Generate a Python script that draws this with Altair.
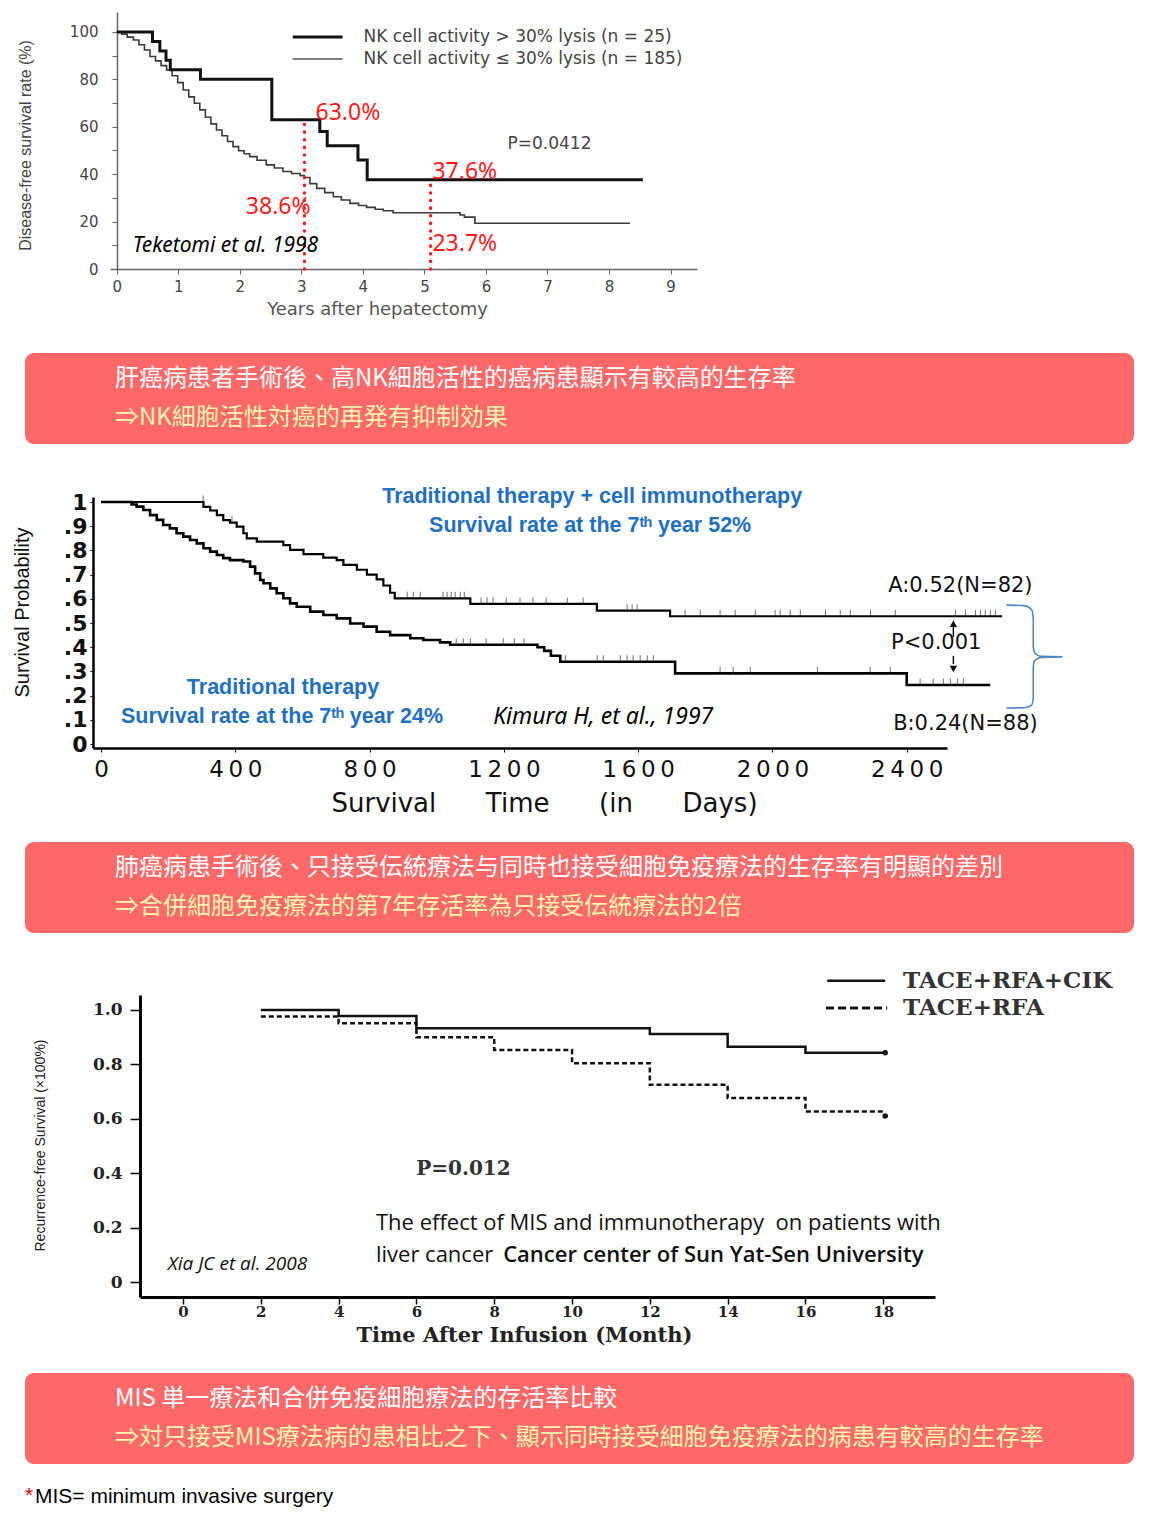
import altair as alt
import pandas as pd

W, H = 1154, 1505

# ---------------- Panel 1 : Teketomi et al. 1998 ----------------
p1_high_t = [0, 0.58, 0.70, 0.80, 0.87, 1.36, 2.52, 3.30, 3.42, 3.92, 4.07, 8.55]
p1_high_s = [100, 96.0, 92.0, 88.0, 84.0, 80.0, 63.0, 58.0, 52.0, 46.0, 37.6, 37.6]
p1_low_t = [0, 0.08, 0.17, 0.27, 0.36, 0.45, 0.54, 0.63, 0.72, 0.81, 0.90, 0.99, 1.08, 1.17,
            1.26, 1.35, 1.44, 1.53, 1.62, 1.71, 1.80, 1.89, 1.98, 2.07, 2.16, 2.28, 2.43, 2.56,
            2.70, 2.84, 2.98, 3.05, 3.14, 3.25, 3.38, 3.52, 3.65, 3.79, 3.93, 4.06, 4.20, 4.33,
            4.49, 5.58, 5.65, 5.82, 8.34]
p1_low_s = [100, 99.0, 97.8, 96.6, 94.6, 92.4, 89.6, 87.8, 85.8, 84.0, 81.5, 78.6, 75.5, 72.6,
            69.9, 67.1, 64.0, 61.2, 58.6, 56.2, 53.8, 51.6, 49.9, 48.6, 47.4, 45.9, 43.9, 42.6,
            41.1, 40.3, 39.4, 38.6, 36.0, 34.0, 32.2, 30.5, 29.1, 27.7, 26.8, 26.0, 25.2, 24.6,
            23.7, 22.8, 21.9, 19.3, 19.3]
p1_cut_years = [3.05, 5.10]
p1_cut_high = [63.0, 37.6]
p1_cut_low = [38.6, 23.7]
p1_legend = ["NK cell activity > 30% lysis (n = 25)", "NK cell activity \u2264 30% lysis (n = 185)"]

# ---------------- Panel 2 : Kimura H, et al., 1997 ----------------
p2_a_t = [0, 305, 325, 345, 364, 384, 404, 424, 434, 464, 543, 563, 603, 662, 702, 722, 762,
          792, 821, 841, 861, 875, 1100, 1477, 1695, 2684]
p2_a_s = [1.0, 0.98, 0.965, 0.946, 0.925, 0.915, 0.898, 0.871, 0.85, 0.836, 0.822, 0.802, 0.785,
          0.770, 0.760, 0.740, 0.720, 0.700, 0.680, 0.655, 0.625, 0.602, 0.579, 0.551, 0.528, 0.528]
p2_b_t = [0, 91, 106, 126, 146, 166, 185, 205, 225, 245, 265, 285, 305, 325, 345, 364, 384, 424,
          444, 459, 474, 484, 504, 523, 543, 563, 583, 623, 662, 702, 742, 782, 821, 861, 921,
          960, 1010, 1040, 1300, 1320, 1340, 1368, 1710, 2400, 2649]
p2_b_s = [1.0, 0.99, 0.981, 0.967, 0.946, 0.926, 0.905, 0.891, 0.871, 0.857, 0.843, 0.829, 0.809,
          0.795, 0.781, 0.768, 0.760, 0.754, 0.733, 0.705, 0.678, 0.664, 0.643, 0.623, 0.602,
          0.581, 0.567, 0.547, 0.533, 0.519, 0.498, 0.485, 0.464, 0.450, 0.437, 0.430, 0.420,
          0.410, 0.400, 0.385, 0.365, 0.340, 0.292, 0.244, 0.244]
p2_a_cens = [304, 390, 912, 930, 951, 1019, 1031, 1043, 1055, 1070, 1082, 1132, 1150, 1168, 1207,
             1248, 1287, 1326, 1389, 1436, 1567, 1582, 1597, 1740, 1785, 1844, 1889, 1949, 2008,
             2023, 2053, 2083, 2158, 2202, 2232, 2292, 2366, 2545, 2575, 2605, 2620, 2634, 2649, 2664]
p2_b_cens = [1058, 1079, 1100, 1147, 1198, 1231, 1260, 1383, 1478, 1496, 1547, 1567, 1585, 1606,
             1627, 1645, 1844, 1883, 1934, 2134, 2291, 2351, 2440, 2479, 2509, 2530, 2551, 2569]
p2_labels = ["A:0.52(N=82)", "P<0.001", "B:0.24(N=88)"]

# ---------------- Panel 3 : Xia JC et al. 2008 ----------------
p3_cik_t = [2, 4, 6, 12, 14, 16, 18]
p3_cik_s = [1.0, 0.978, 0.933, 0.912, 0.865, 0.843, 0.843]
p3_rfa_t = [2, 4, 6, 8, 10, 12, 14, 16, 18]
p3_rfa_s = [0.976, 0.951, 0.90, 0.853, 0.804, 0.725, 0.676, 0.627, 0.627]
p3_series = ["TACE+RFA+CIK", "TACE+RFA"]

# ---------------- banners ----------------
banner_line1 = [
    "肝癌病患者手術後、高NK細胞活性的癌病患顯示有較高的生存率",
    "肺癌病患手術後、只接受伝統療法与同時也接受細胞免疫療法的生存率有明顯的差別",
    "MIS 単一療法和合併免疫細胞療法的存活率比較",
]
banner_line2 = [
    "⇒NK細胞活性対癌的再発有抑制効果",
    "⇒合併細胞免疫療法的第7年存活率為只接受伝統療法的2倍",
    "⇒対只接受MIS療法病的患相比之下、顯示同時接受細胞免疫療法的病患有較高的生存率",
]
footnote = "MIS= minimum invasive surgery"

NARROW = "'Liberation Sans Narrow', 'Liberation Sans', sans-serif"
NB = "\u00a0"


def step_at(ts, ss, t):
    v = ss[0]
    for ti, si in zip(ts, ss):
        if ti <= t:
            v = si
    return v


# ======================= Panel 1 =======================
X1 = alt.Scale(domain=[-0.11, 9.43], range=[102, 689], nice=False, zero=False)
Y1 = alt.Scale(domain=[0, 108.4], range=[261, 4], nice=False, zero=False)
ax1x = alt.Axis(orient="bottom", offset=-(H - 261), values=list(range(10)), format="d",
                tickSize=5, labelPadding=5, labelFont="DejaVu Sans", labelFontSize=15,
                labelColor="#444", domainColor="#666", domainWidth=1.5, tickColor="#666",
                grid=False, labelFlush=False, labelOverlap=False,
                title="Years after hepatectomy", titleFont="DejaVu Sans", titleFontSize=18,
                titleFontWeight="normal", titleColor="#555", titleX=369, titleY=40,
                titleAlign="center", titleBaseline="middle")
ax1y = alt.Axis(orient="left", offset=-109, values=list(range(0, 101, 10)),
                labelExpr="datum.value % 20 == 0 ? datum.label : ''",
                tickSize=5, labelPadding=14, labelFont="DejaVu Sans", labelFontSize=15,
                labelColor="#444", domainColor="#666", domainWidth=1.5, tickColor="#666",
                grid=False, labelOverlap=False,
                title="Disease-free survival rate (%)", titleFont=NARROW, titleFontSize=16,
                titleFontWeight="normal", titleColor="#444", titleX=-92, titleY=137,
                titleAngle=270, titleAlign="center", titleBaseline="middle")

low1 = alt.Chart(pd.DataFrame({"t": p1_low_t, "s": p1_low_s})).mark_line(
    interpolate="step-after", color="#3a3a3a", strokeWidth=1.6).encode(
    x=alt.X("t:Q", scale=X1, axis=ax1x), y=alt.Y("s:Q", scale=Y1, axis=ax1y))
high1 = alt.Chart(pd.DataFrame({"t": p1_high_t, "s": p1_high_s})).mark_line(
    interpolate="step-after", color="#111", strokeWidth=3).encode(x="t:Q", y="s:Q")
leg1_thick = alt.Chart(pd.DataFrame({"t": [2.86], "t2": [3.67], "s": [97.9]})).mark_rule(
    color="#111", strokeWidth=3).encode(x="t:Q", x2="t2:Q", y="s:Q")
leg1_thin = alt.Chart(pd.DataFrame({"t": [2.86], "t2": [3.67], "s": [88.6]})).mark_rule(
    color="#555", strokeWidth=1.6).encode(x="t:Q", x2="t2:Q", y="s:Q")
leg1_text = alt.Chart(pd.DataFrame({"t": [4.01, 4.01], "s": [97.9, 88.6], "label": p1_legend})).mark_text(
    align="left", baseline="middle", font="DejaVu Sans", fontSize=17, color="#444").encode(
    x="t:Q", y="s:Q", text="label:N")
p1_p = alt.Chart(pd.DataFrame({"t": [6.35], "s": [52.7], "label": ["P=0.0412"]})).mark_text(
    align="left", baseline="middle", font="DejaVu Sans", fontSize=17, color="#444").encode(
    x="t:Q", y="s:Q", text="label:N")
cuts1 = alt.Chart(pd.DataFrame({"t": p1_cut_years, "y0": [0, 0], "y1": p1_cut_high})).mark_rule(
    color="#ff1a1a", strokeWidth=3.5, strokeDash=[0.1, 7.5], strokeCap="round").encode(
    x="t:Q", y="y0:Q", y2="y1:Q")
lab_left = pd.DataFrame({
    "t": [p1_cut_years[0] + 0.18, p1_cut_years[1] + 0.03, p1_cut_years[1] + 0.03],
    "s": [p1_cut_high[0] + 2.8, p1_cut_high[1] + 3.3, p1_cut_low[1] - 13.2],
    "label": [f"{p1_cut_high[0]:.1f}%", f"{p1_cut_high[1]:.1f}%", f"{p1_cut_low[1]:.1f}%"]})
lab_right = pd.DataFrame({"t": [p1_cut_years[0] + 0.10], "s": [p1_cut_low[0] - 12.4],
                          "label": [f"{p1_cut_low[0]:.1f}%"]})
red_l = alt.Chart(lab_left).mark_text(align="left", baseline="middle", font="Noto Sans",
                                      fontSize=23, color="#ff1a1a").encode(x="t:Q", y="s:Q", text="label:N")
red_r = alt.Chart(lab_right).mark_text(align="right", baseline="middle", font="Noto Sans",
                                       fontSize=23, color="#ff1a1a").encode(x="t:Q", y="s:Q", text="label:N")
cite1 = alt.Chart(pd.DataFrame({"t": [0.26], "s": [9.7], "label": ["Teketomi et al. 1998"]})).mark_text(
    align="left", baseline="middle", font="Noto Sans", fontStyle="italic", fontSize=21,
    color="#000").encode(x="t:Q", y="s:Q", text="label:N")

panel1 = alt.layer(low1, high1, leg1_thick, leg1_thin, leg1_text, p1_p, cuts1, red_l, red_r, cite1)

# ======================= Panel 2 =======================
X2 = alt.Scale(domain=[-24, 2520], range=[85, 939], nice=False, zero=False)
Y2 = alt.Scale(domain=[-0.0165, 1.0207], range=[740, 489], nice=False, zero=False)
gap = NB * 6
ax2x = alt.Axis(orient="bottom", offset=-(H - 740), values=[0, 400, 800, 1200, 1600, 2000, 2400],
                format="d", labelExpr="join(split(datum.label, ''), '\u2009')",
                tickSize=4, labelPadding=6, labelFont="DejaVu Sans", labelFontSize=23,
                labelColor="#111", domainColor="#000", domainWidth=2.5, tickColor="#000",
                grid=False, labelFlush=False, labelOverlap=False,
                title=f"Survival{gap}Time{gap}(in{gap}Days)",
                titleFont="DejaVu Sans", titleFontSize=26, titleFontWeight="normal",
                titleColor="#111", titleX=536, titleY=55, titleAlign="center", titleBaseline="middle")
ax2y = alt.Axis(orient="left", offset=-85, values=[round(i / 10, 1) for i in range(11)],
                labelExpr="datum.value < 0.01 ? '0' : datum.value > 0.99 ? '1' : '.' + round(datum.value * 10)",
                tickSize=3, labelPadding=3, labelFont="DejaVu Sans", labelFontSize=22,
                labelFontWeight="bold", labelColor="#111", domainColor="#000", domainWidth=2.5,
                tickColor="#000", grid=False, labelOverlap=False,
                title="Survival Probability", titleFont=NARROW, titleFontSize=20,
                titleFontWeight="normal", titleColor="#111", titleX=-71, titleY=604,
                titleAngle=270, titleAlign="center", titleBaseline="middle")

a2 = alt.Chart(pd.DataFrame({"t": p2_a_t, "s": p2_a_s})).mark_line(
    interpolate="step-after", color="#000", strokeWidth=2.2).encode(
    x=alt.X("t:Q", scale=X2, axis=ax2x), y=alt.Y("s:Q", scale=Y2, axis=ax2y))
b2 = alt.Chart(pd.DataFrame({"t": p2_b_t, "s": p2_b_s})).mark_line(
    interpolate="step-after", color="#000", strokeWidth=2.6).encode(x="t:Q", y="s:Q")
cens_df = pd.DataFrame({
    "t": p2_a_cens + p2_b_cens,
    "s": [step_at(p2_a_t, p2_a_s, c) for c in p2_a_cens] + [step_at(p2_b_t, p2_b_s, c) for c in p2_b_cens]})
cens2 = alt.Chart(cens_df).mark_tick(orient="vertical", color="#333", size=7, thickness=1,
                                     yOffset=-3).encode(x="t:Q", y="s:Q")
blue_df = pd.DataFrame({
    "t": [1463, 1457, 542, 539],
    "s": [1.021, 0.901, 0.231, 0.112],
    "label": ["Traditional therapy + cell immunotherapy",
              "Survival rate at the 7\u1d57\u02b0 year 52%",
              "Traditional therapy",
              "Survival rate at the 7\u1d57\u02b0 year 24%"]})
blue2 = alt.Chart(blue_df).mark_text(align="center", baseline="middle", font=NARROW, fontSize=21.5,
                                     fontWeight="bold", color="#1f6fc5").encode(
    x="t:Q", y="s:Q", text="label:N")
cite2 = alt.Chart(pd.DataFrame({"t": [1168], "s": [0.112], "label": ["Kimura H, et al., 1997"]})).mark_text(
    align="left", baseline="middle", font="Noto Sans", fontStyle="italic", fontSize=23,
    color="#000").encode(x="t:Q", y="s:Q", text="label:N")
ann2 = alt.Chart(pd.DataFrame({
    "t": [2560, 2488, 2575],
    "s": [0.653, 0.417, 0.083],
    "label": p2_labels})).mark_text(
    align="center", baseline="middle", font="DejaVu Sans", fontSize=21, color="#111").encode(
    x="t:Q", y="s:Q", text="label:N")
arrow_lines = alt.Chart(pd.DataFrame({"t": [2539, 2539], "y0": [0.442, 0.330], "y1": [0.50, 0.364]})).mark_rule(
    color="#111", strokeWidth=1.5).encode(x="t:Q", y="y0:Q", y2="y1:Q")
arrow_up = alt.Chart(pd.DataFrame({"t": [2539], "s": [0.497]})).mark_point(
    shape="triangle-up", filled=True, color="#111", size=55, opacity=1).encode(x="t:Q", y="s:Q")
arrow_dn = alt.Chart(pd.DataFrame({"t": [2539], "s": [0.310]})).mark_point(
    shape="triangle-down", filled=True, color="#111", size=55, opacity=1).encode(x="t:Q", y="s:Q")
brace_df = pd.DataFrame({
    "i": list(range(15)),
    "t": [2697, 2750, 2772, 2777, 2777, 2782, 2800, 2864, 2800, 2782, 2777, 2777, 2772, 2750, 2697],
    "s": [0.574, 0.572, 0.555, 0.52, 0.40, 0.375, 0.362, 0.360, 0.358, 0.345, 0.32, 0.19, 0.16, 0.150, 0.149]})
brace2 = alt.Chart(brace_df).mark_line(color="#4f86c6", strokeWidth=1.6, interpolate="monotone").encode(
    x="t:Q", y="s:Q", order="i:Q")

panel2 = alt.layer(a2, b2, cens2, blue2, cite2, ann2, arrow_lines, arrow_up, arrow_dn, brace2)

# ======================= Panel 3 =======================
X3 = alt.Scale(domain=[-1.105, 19.33], range=[132, 927], nice=False, zero=False)
Y3 = alt.Scale(domain=[-0.055, 1.055], range=[1289, 987], nice=False, zero=False)
ax3x = alt.Axis(orient="bottom", offset=-(H - 1289), values=list(range(0, 19, 2)), format="d",
                tickSize=7, labelPadding=0, labelFont="DejaVu Serif", labelFontSize=15,
                labelFontWeight="bold", labelColor="#222", domainColor="#000", domainWidth=3,
                tickColor="#000", tickWidth=1.5, grid=False, labelFlush=False, labelOverlap=False,
                title="Time After Infusion (Month)", titleFont="DejaVu Serif", titleFontSize=21,
                titleFontWeight="bold", titleColor="#222", titleX=516, titleY=38,
                titleAlign="center", titleBaseline="middle")
ax3y = alt.Axis(orient="left", offset=-132, values=[0, 0.2, 0.4, 0.6, 0.8, 1.0],
                labelExpr="datum.value < 0.01 ? '0' : format(datum.value, '.1f')",
                tickSize=10, labelPadding=8, labelFont="DejaVu Serif", labelFontSize=17,
                labelFontWeight="bold", labelColor="#222", domainColor="#000", domainWidth=3,
                tickColor="#000", tickWidth=1.5, grid=False, labelOverlap=False,
                title="Recurrence-free Survival (\u00d7100%)", titleFont=NARROW, titleFontSize=14,
                titleFontWeight="normal", titleColor="#222", titleX=-100, titleY=1137,
                titleAngle=270, titleAlign="center", titleBaseline="middle")

cik3 = alt.Chart(pd.DataFrame({"t": p3_cik_t, "s": p3_cik_s})).mark_line(
    interpolate="step-after", color="#111", strokeWidth=2.5).encode(
    x=alt.X("t:Q", scale=X3, axis=ax3x), y=alt.Y("s:Q", scale=Y3, axis=ax3y))
rfa3 = alt.Chart(pd.DataFrame({"t": p3_rfa_t, "s": p3_rfa_s})).mark_line(
    interpolate="step-after", color="#111", strokeWidth=2.5, strokeDash=[5, 3]).encode(x="t:Q", y="s:Q")
ends3 = alt.Chart(pd.DataFrame({"t": [18.05, 18.05], "s": [p3_cik_s[-1], p3_rfa_s[-1] - 0.017]})).mark_point(
    shape="circle", filled=True, color="#111", size=30, opacity=1).encode(x="t:Q", y="s:Q")
leg3_solid = alt.Chart(pd.DataFrame({"t": [16.56], "t2": [18.05], "s": [1.107]})).mark_rule(
    color="#111", strokeWidth=2.5).encode(x="t:Q", x2="t2:Q", y="s:Q")
leg3_dash = alt.Chart(pd.DataFrame({"t": [16.53], "t2": [18.1], "s": [1.007]})).mark_rule(
    color="#111", strokeWidth=3, strokeDash=[8, 4]).encode(x="t:Q", x2="t2:Q", y="s:Q")
leg3_text = alt.Chart(pd.DataFrame({"t": [18.51, 18.51], "s": [1.107, 1.007], "label": p3_series})).mark_text(
    align="left", baseline="middle", font="DejaVu Serif", fontSize=23, fontWeight="bold",
    color="#333").encode(x="t:Q", y="s:Q", text="label:N")
p3_p = alt.Chart(pd.DataFrame({"t": [7.21], "s": [0.415], "label": ["P=0.012"]})).mark_text(
    align="center", baseline="middle", font="DejaVu Serif", fontSize=20, fontWeight="bold",
    color="#333").encode(x="t:Q", y="s:Q", text="label:N")
desc3 = alt.Chart(pd.DataFrame({"t": [4.96, 4.96], "s": [0.217, 0.099],
                                "label": ["The effect of MIS and immunotherapy\u00a0 on patients with",
                                          "liver cancer"]})).mark_text(
    align="left", baseline="middle", font="Open Sans", fontSize=22, color="#111").encode(
    x="t:Q", y="s:Q", text="label:N")
desc3b = alt.Chart(pd.DataFrame({"t": [8.23], "s": [0.099],
                                 "label": ["Cancer center of Sun Yat-Sen University"]})).mark_text(
    align="left", baseline="middle", font="Open Sans", fontSize=22, fontWeight=600,
    color="#111").encode(x="t:Q", y="s:Q", text="label:N")
cite3 = alt.Chart(pd.DataFrame({"t": [-0.39], "s": [0.066], "label": ["Xia JC et al. 2008"]})).mark_text(
    align="left", baseline="middle", font="Open Sans", fontStyle="italic", fontSize=19,
    color="#111").encode(x="t:Q", y="s:Q", text="label:N")

panel3 = alt.layer(cik3, rfa3, ends3, leg3_solid, leg3_dash, leg3_text, p3_p, desc3, desc3b, cite3)

# ======================= banners & footnote =======================
one = pd.DataFrame({"k": [0]})
banner_tops = [345, 834, 1365]
deco = []
for top, l1, l2 in zip(banner_tops, banner_line1, banner_line2):
    deco.append(alt.Chart(one).mark_rect(color="#fe6868", cornerRadius=9).encode(
        x=alt.value(17), x2=alt.value(1126), y=alt.value(top), y2=alt.value(top + 91)))
    deco.append(alt.Chart(one).mark_text(text=l1, align="left", baseline="middle",
                                         font="Noto Sans CJK TC", fontSize=24, color="#ffffff").encode(
        x=alt.value(107), y=alt.value(top + 26)))
    deco.append(alt.Chart(one).mark_text(text=l2, align="left", baseline="middle",
                                         font="Noto Sans CJK TC", fontSize=24, color="#fff4b0").encode(
        x=alt.value(107), y=alt.value(top + 65)))
deco.append(alt.Chart(one).mark_text(text="*", align="left", baseline="middle", font=NARROW,
                                     fontSize=21, color="#e00000").encode(x=alt.value(17), y=alt.value(1488)))
deco.append(alt.Chart(one).mark_text(text=footnote, align="left", baseline="middle", font=NARROW,
                                     fontSize=21, color="#000").encode(x=alt.value(27), y=alt.value(1489)))

chart = alt.layer(*deco, panel1, panel2, panel3).resolve_scale(
    x="independent", y="independent").properties(
    width=W, height=H, autosize=alt.AutoSizeParams(type="none"), padding=0,
    background="white").configure_view(stroke=None)

chart.save("out.html", embed_options={"renderer": "svg", "actions": False})
